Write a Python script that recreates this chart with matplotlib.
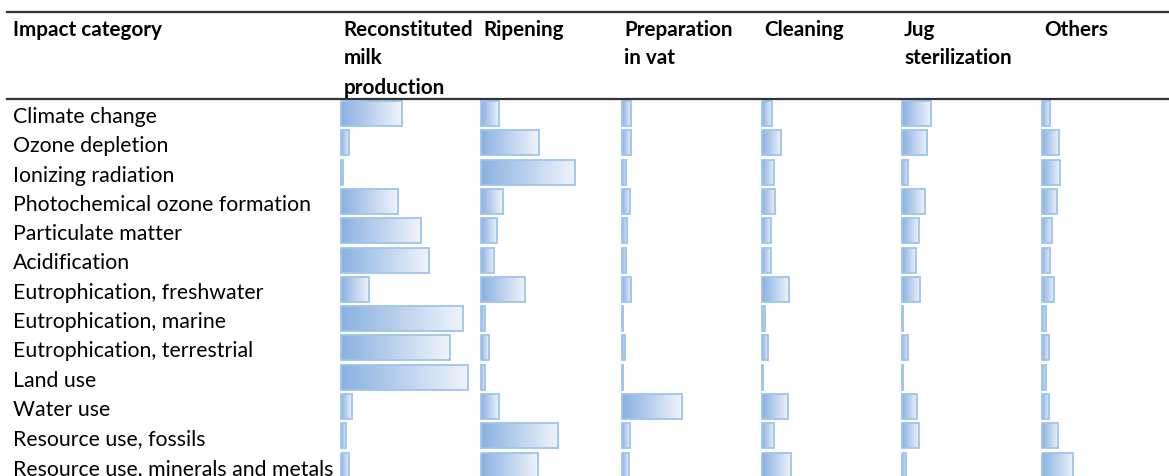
import numpy as np
import matplotlib
matplotlib.use("Agg")
import matplotlib.pyplot as plt
from matplotlib.colors import LinearSegmentedColormap

categories = [
    "Climate change",
    "Ozone depletion",
    "Ionizing radiation",
    "Photochemical ozone formation",
    "Particulate matter",
    "Acidification",
    "Eutrophication, freshwater",
    "Eutrophication, marine",
    "Eutrophication, terrestrial",
    "Land use",
    "Water use",
    "Resource use, fossils",
    "Resource use, minerals and metals",
]
headers = [
    "Reconstituted\nmilk\nproduction",
    "Ripening",
    "Preparation\nin vat",
    "Cleaning",
    "Jug\nsterilization",
    "Others",
]
# contribution (%) of each stage
reconstituted = [43.8, 6.0, 1.7, 40.9, 57.5, 63.5, 20.0, 88.3, 78.7, 91.9, 7.7, 3.8, 6.0]
ripening      = [13.2, 41.7, 67.9, 15.7, 11.8, 9.6, 31.8, 3.1, 5.6, 2.7, 12.8, 55.6, 41.2]
preparation   = [7.2, 7.2, 3.6, 5.8, 4.3, 3.6, 6.5, 0.9, 2.4, 0.9, 43.5, 5.8, 5.1]
cleaning      = [7.9, 14.4, 8.7, 9.6, 6.5, 6.5, 19.7, 2.4, 4.5, 0.9, 19.3, 8.7, 21.2]
jug           = [21.2, 18.3, 4.5, 16.8, 12.5, 10.3, 13.2, 1.4, 4.5, 1.2, 11.0, 12.8, 3.6]
others        = [6.0, 12.8, 13.2, 11.0, 7.7, 6.3, 9.2, 3.6, 5.3, 3.4, 5.3, 12.1, 22.9]
columns = [reconstituted, ripening, preparation, cleaning, jug, others]

W, H = 1169, 477
col_x = [341, 481, 621.5, 761.5, 901.5, 1041.5]
px_per_pct = 1.385
row_y0, row_step = 114.5, 29.3
bar_h = 25

font = "Lato"
fs = 14.9
fig = plt.figure(figsize=(W / 100, H / 100), dpi=100)
ax = fig.add_axes([0, 0, 1, 1])
ax.axis("off")

cmap = LinearSegmentedColormap.from_list("bar", ["#8ab1e1", "#f0f4fb"])
grad = np.linspace(0, 1, 256).reshape(1, -1)

rows = row_y0 + row_step * np.arange(len(categories))
for j, vals in enumerate(columns):
    widths = np.array(vals) * px_per_pct
    bars = ax.barh(rows, widths, left=col_x[j], height=bar_h,
                   facecolor="none", edgecolor="#9fc4ec", linewidth=1.3, zorder=3)
    for b in bars:
        x0, y0 = b.get_x(), b.get_y()
        im = ax.imshow(grad, cmap=cmap, aspect="auto", zorder=2,
                       extent=[x0, x0 + b.get_width(), y0 + b.get_height(), y0])
        im.set_clip_path(b)

for i, name in enumerate(categories):
    ax.text(13, rows[i] + 2.5, name, fontsize=15.3, family=font,
            va="center", ha="left", color="black")

ax.text(13, 29.5, "Impact category", fontsize=fs, family=font,
        fontweight="bold", va="center", ha="left")
for j, hdr in enumerate(headers):
    for k, line in enumerate(hdr.split("\n")):
        ax.text(col_x[j] + 2.5, 29.5 + 29 * k, line, fontsize=fs, family=font,
                fontweight="bold", va="center", ha="left")

ax.plot([7, W], [12.5, 12.5], color="#333333", lw=1.6, zorder=4)
ax.plot([7, W], [99.5, 99.5], color="#333333", lw=1.6, zorder=4)

ax.set_xlim(0, W)
ax.set_ylim(H, 0)
fig.savefig("out.png", dpi=100)
